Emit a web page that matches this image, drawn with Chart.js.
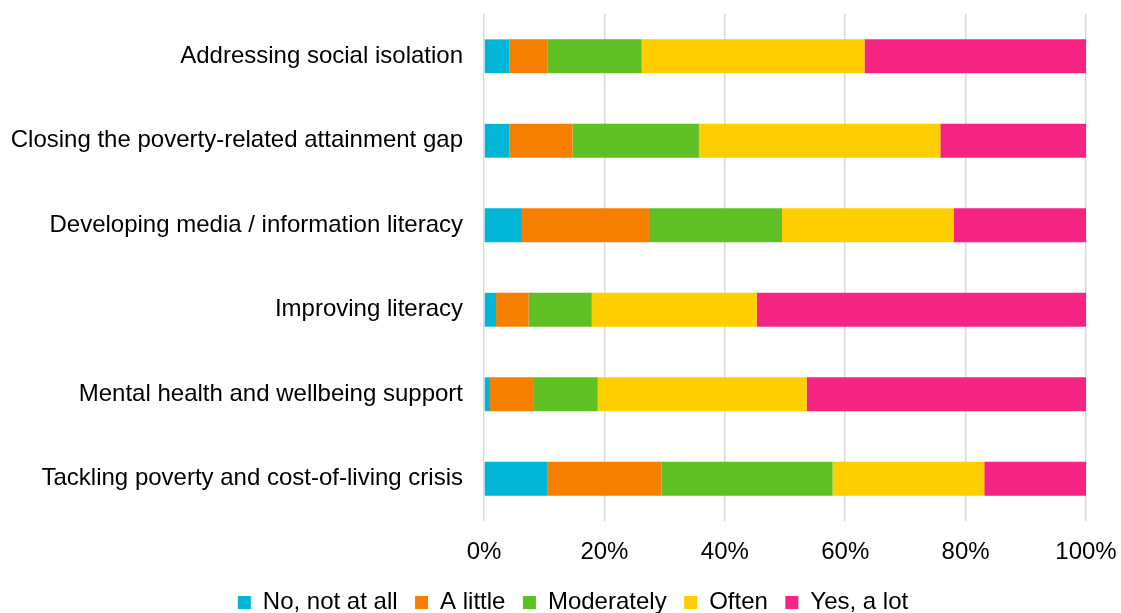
<!DOCTYPE html>
<html>
<head>
<meta charset="utf-8">
<script src="https://cdn.jsdelivr.net/npm/chart.js@4.4.0/dist/chart.umd.min.js"></script>
<style>
  html, body { margin: 0; padding: 0; background: #fff; }
  #wrap { width: 1121px; height: 613px; position: relative; }
</style>
</head>
<body>
<div id="wrap"><canvas id="c" width="1121" height="613"></canvas></div>
<script>
const categories = [
  "Addressing social isolation",
  "Closing the poverty-related attainment gap",
  "Developing media / information literacy",
  "Improving literacy",
  "Mental health and wellbeing support",
  "Tackling poverty and cost-of-living crisis"
];
const seriesNames = ["No, not at all", "A little", "Moderately", "Often", "Yes, a lot"];
const noNotAtAll = [4.2, 4.2, 6.3, 2.0, 1.0, 10.5];
const aLittle    = [6.3, 10.5, 21.1, 5.4, 7.3, 19.0];
const moderately = [15.7, 21.0, 22.1, 10.5, 10.6, 28.4];
const often      = [37.0, 40.1, 28.5, 27.4, 34.7, 25.2];
const yesALot    = [36.8, 24.2, 22.0, 54.7, 46.4, 16.9];
const xTicks = [0, 20, 40, 60, 80, 100];

const colors = ["#00B5D6", "#F77F00", "#5EC022", "#FFCE00", "#F52482"];
const values = [noNotAtAll, aLittle, moderately, often, yesALot];

const FONT = "'Liberation Sans', Arial, sans-serif";
const FS = 24;
const LEGEND_H = 40;
const LEGEND_SHIFT = 30;

const legendFit = {
  id: 'legendFit',
  beforeInit(chart) {
    const orig = chart.legend.fit;
    chart.legend.fit = function () {
      orig.bind(chart.legend)();
      this.height = LEGEND_H;
    };
  },
  afterLayout(chart) {
    chart.legend.left += LEGEND_SHIFT;
    chart.legend.right += LEGEND_SHIFT;
  }
};

new Chart(document.getElementById('c'), {
  type: 'bar',
  data: {
    labels: categories,
    datasets: seriesNames.map((n, i) => ({
      label: n,
      data: values[i],
      backgroundColor: colors[i],
      borderWidth: 0,
      categoryPercentage: 1,
      barPercentage: 0.40
    }))
  },
  options: {
    indexAxis: 'y',
    responsive: false,
    animation: false,
    devicePixelRatio: 1,
    layout: { padding: { top: 14, right: 35, left: 0, bottom: 0 } },
    scales: {
      x: {
        stacked: true,
        min: 0, max: 100,
        afterBuildTicks(scale) { scale.ticks = xTicks.map(v => ({ value: v })); },
        afterFit(scale) {
          scale.height = 613 - 521 - LEGEND_H;
          scale.paddingLeft = 0; scale.paddingRight = 0;
          scale.paddingTop = 0; scale.paddingBottom = 0;
        },
        grid: { color: '#d9d9d9', lineWidth: 1.5, drawTicks: false },
        border: { display: false },
        ticks: {
          padding: 17,
          color: '#000',
          font: { family: FONT, size: FS },
          callback: v => v + '%'
        }
      },
      y: {
        stacked: true,
        afterFit(scale) {
          scale.width = 484;
          scale.paddingTop = 0; scale.paddingBottom = 0;
          scale.paddingLeft = 0; scale.paddingRight = 0;
        },
        grid: { display: false, drawTicks: false },
        border: { display: false },
        ticks: {
          padding: 21,
          color: '#000',
          font: { family: FONT, size: FS }
        }
      }
    },
    plugins: {
      legend: {
        position: 'bottom',
        labels: {
          boxWidth: 13,
          boxHeight: 13,
          padding: 17.5,
          color: '#000',
          font: { family: FONT, size: FS }
        }
      },
      tooltip: { enabled: false }
    }
  },
  plugins: [legendFit]
});
</script>
</body>
</html>
